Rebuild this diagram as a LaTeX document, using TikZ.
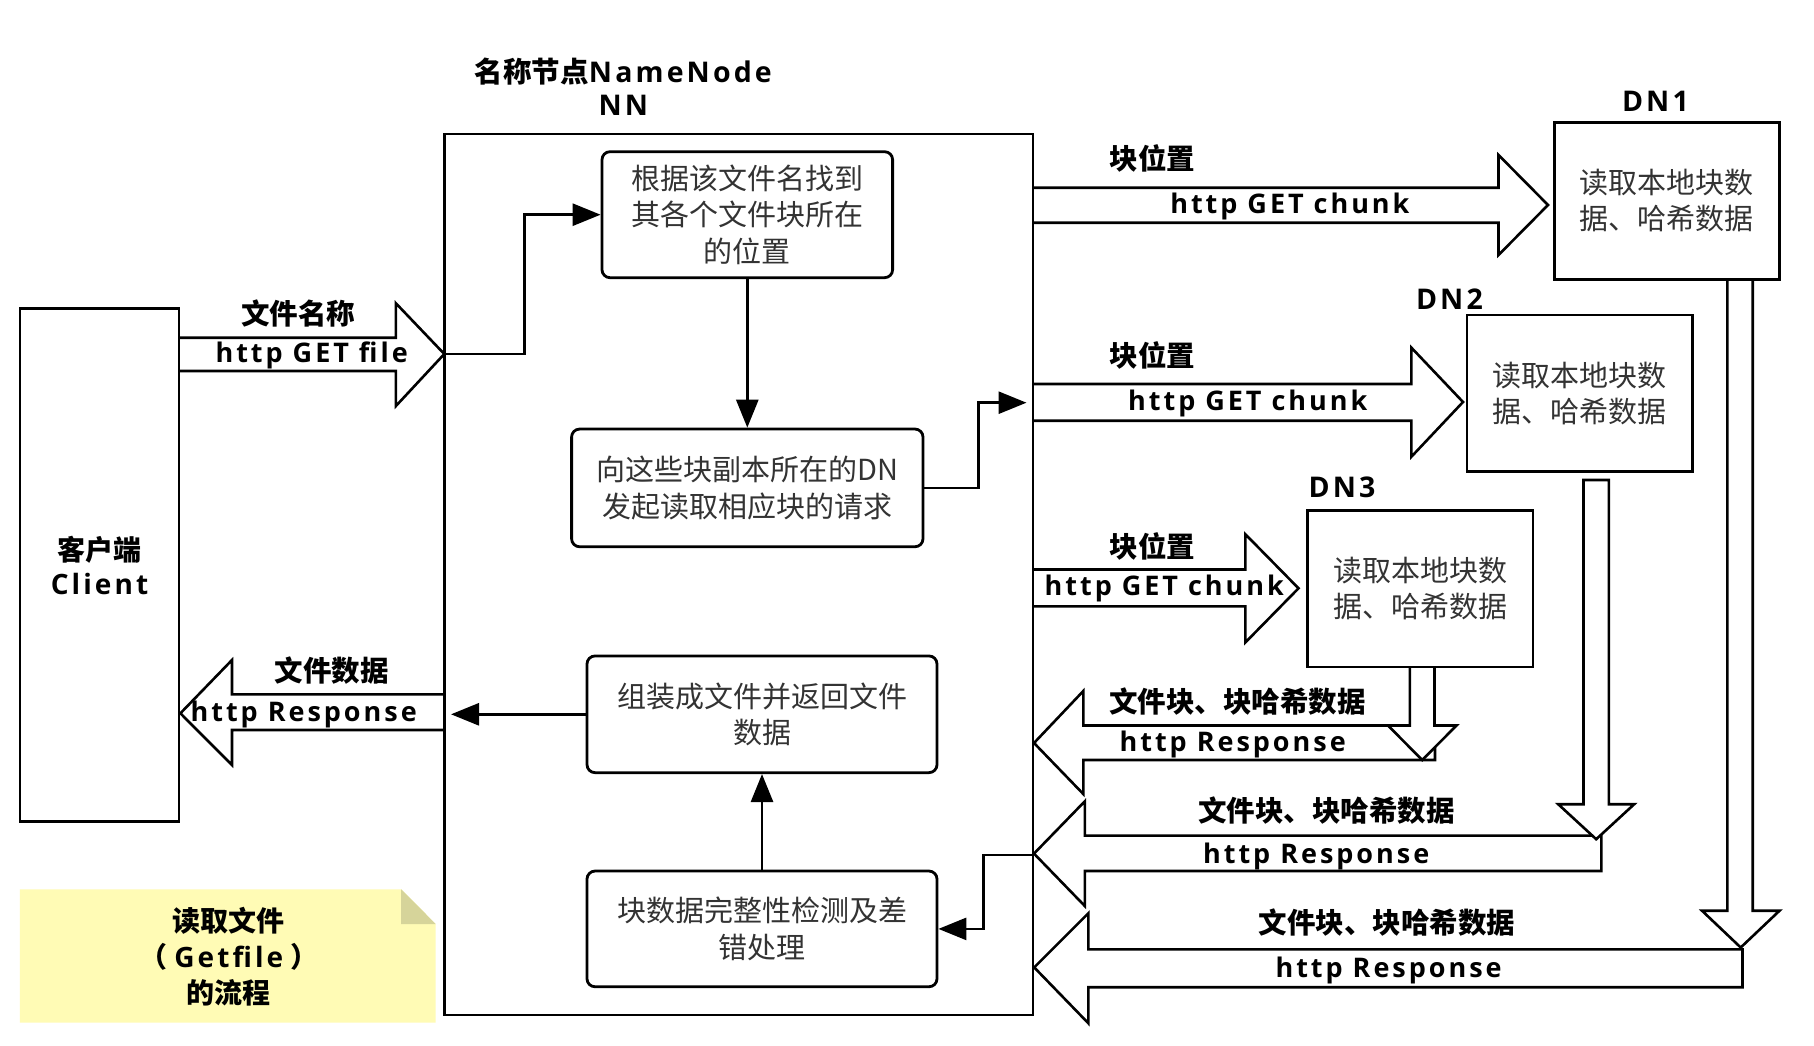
\documentclass[tikz,border=0pt]{standalone}
\usepackage{fontspec}
\setmainfont{Noto Sans CJK SC}
\newfontfamily\latfont[LetterSpace=11]{Open Sans}
\usetikzlibrary{arrows.meta}
\definecolor{txt}{HTML}{333333}
\definecolor{noteY}{HTML}{FFFBB5}
\definecolor{noteF}{HTML}{D6D49A}
\begin{document}
\begin{tikzpicture}[x=1pt,y=-1pt,
  box/.style={draw,line width=2.8pt,rounded corners=8pt,text=txt,font=\fontsize{29}{36.7}\selectfont,align=center,inner sep=0pt},
  sq/.style={draw,line width=2.8pt,text=txt,font=\fontsize{29}{36}\selectfont,align=center,inner sep=0pt},
  blk/.style={draw,fill=white,line width=2.6pt,line join=miter},
  conn/.style={line width=2.8pt,-{Triangle[length=28pt,width=22pt]}},
  lab/.style={font=\fontsize{28.5}{34}\selectfont\bfseries,inner sep=0pt,align=center},
  ltx/.style={font=\latfont\fontsize{27}{30}\selectfont\bfseries,inner sep=0pt}]
\useasboundingbox (0,0) rectangle (1814,1046);
\fill[white] (0,0) rectangle (1814,1046);

% note
\fill[noteY] (19.9,889.3) -- (401.2,889.3) -- (435.7,924) -- (435.7,1022.7) -- (19.9,1022.7) -- cycle;
\fill[noteF] (401.2,889.3) -- (435.7,924) -- (401.2,924) -- cycle;
\node[lab,font=\fontsize{28}{36}\selectfont\bfseries] (note) at (228.8,957) {读取文件\\（\hspace{7pt}{\latfont Getfile}\hspace{7pt}）\\的流程};

% block arrows client <-> NN
\draw[blk] (179,337.7) -- (395.9,337.7) -- (395.9,303.3) -- (444.3,354) -- (395.9,406) -- (395.9,371) -- (179,371);
\draw[blk] (444.3,694.3) -- (232,694.3) -- (232,660) -- (180.4,713.3) -- (232,765) -- (232,730) -- (444.3,730);

% NN -> DN
\draw[blk] (1033,187.7) -- (1498.5,187.7) -- (1498.5,155) -- (1548,205) -- (1498.5,255) -- (1498.5,222.7) -- (1033,222.7);
\draw[blk] (1033,384) -- (1411.4,384) -- (1411.4,347.7) -- (1463,402) -- (1411.4,456.7) -- (1411.4,420.7) -- (1033,420.7);
\draw[blk] (1033,569.5) -- (1245.3,569.5) -- (1245.3,534.2) -- (1298.5,588.3) -- (1245.3,642.5) -- (1245.3,606.4) -- (1033,606.4);

% DN -> NN responses
\draw[blk] (1435,725.5) -- (1083.3,725.5) -- (1083.3,691) -- (1034,743) -- (1083.3,794) -- (1083.3,760) -- (1435,760) -- cycle;
\draw[blk] (1601.3,835.6) -- (1084.8,835.6) -- (1084.8,801.3) -- (1034,853.6) -- (1084.8,906) -- (1084.8,871) -- (1601.3,871) -- cycle;
\draw[blk] (1742.5,949.3) -- (1088.4,949.3) -- (1088.4,913.2) -- (1034.2,967.4) -- (1088.4,1023.3) -- (1088.4,987.2) -- (1742.5,987.2) -- cycle;
\draw[blk] (1409.9,667) -- (1409.9,725.5) -- (1388,725.5) -- (1422.2,760) -- (1456.5,725.5) -- (1434.5,725.5) -- (1434.5,667);
\draw[blk] (1583.5,480) -- (1583.5,804.2) -- (1558.2,804.2) -- (1596.2,839.2) -- (1634.2,804.2) -- (1608.9,804.2) -- (1608.9,480) -- cycle;
\draw[blk] (1727.3,279.3) -- (1727.3,910.7) -- (1702,910.7) -- (1740.7,947.5) -- (1779.5,910.7) -- (1752.7,910.7) -- (1752.7,279.3);

% main nodes
\node[sq,minimum width=588.7pt,minimum height=881pt] (NN) at (738.7,574.5) {};
\node[sq,text=black,font=\fontsize{28}{34}\selectfont\bfseries,minimum width=159pt,minimum height=513.4pt] (CL) at (99.5,565) {客户端\\{\latfont Client}};
\node[box,minimum width=290.6pt,minimum height=126pt] (A) at (747.3,214.7) {根据该文件名找到\\其各个文件块所在\\的位置};
\node[box,minimum width=351.4pt,minimum height=117.7pt] (B) at (747.3,487.9) {向这些块副本所在的DN\\发起读取相应块的请求};
\node[box,minimum width=350pt,minimum height=116.7pt] (C) at (762,714.3) {组装成文件并返回文件\\数据};
\node[box,minimum width=350pt,minimum height=115.7pt] (D) at (762,928.9) {块数据完整性检测及差\\错处理};
\node[sq,minimum width=225.3pt,minimum height=157pt] (DN1) at (1666.9,200.8) {读取本地块数\\据、哈希数据};
\node[sq,minimum width=225.4pt,minimum height=156.7pt] (DN2) at (1579.7,393.4) {读取本地块数\\据、哈希数据};
\node[sq,minimum width=225.3pt,minimum height=156.3pt] (DN3) at (1420.3,588.9) {读取本地块数\\据、哈希数据};

% titles
\node[lab] (t1) at (623.4,71.7) {名称节点{\latfont NameNode}};
\node[lab] (t2) at (623.4,105) {\latfont NN};
\node[lab] (d1) at (1655.4,101.7) {\latfont DN1};
\node[lab] (d2) at (1449.4,299) {\latfont DN2};
\node[lab] (d3) at (1342,487) {\latfont DN3};

% connector coordinates
\coordinate (ca) at (444.3,354);
\coordinate (bo) at (1026.5,402.7);
\coordinate (co) at (451,714.3);
\coordinate (di) at (1033,855);

\draw[conn] (ca) -- ++(80,0) |- (A.west);
\draw[conn] (A.south) -- (B.north);
\draw[conn] (B.east) -- ++(54,0) |- (bo);
\draw[conn] (C.west) -- (co);
\draw[conn] (D.north) -- (C.south);
\draw[conn] (di) -- ++(-49.6,0) |- (D.east);

% labels on block arrows
\node[lab] (l1) at (298.4,313.3) {文件名称};
\node[ltx] (l2) at (311.7,355.5) {http GET file};
\node[lab] (l3) at (331.6,670.7) {文件数据};
\node[ltx] (l4) at (303.7,714) {http Response};
\node[lab] (l5) at (1152.7,158.3) {块位置};
\node[ltx] (l6) at (1289.9,206) {http GET chunk};
\node[lab] (l7) at (1152.7,355) {块位置};
\node[ltx] (l8) at (1247.8,403) {http GET chunk};
\node[lab] (l9) at (1152.7,546.8) {块位置};
\node[ltx] (l10) at (1164.3,588.3) {http GET chunk};
\node[lab] (l11) at (1237.7,702) {文件块、块哈希数据};
\node[ltx] (l12) at (1232.7,744.5) {http Response};
\node[lab] (l13) at (1326.3,810.3) {文件块、块哈希数据};
\node[ltx] (l14) at (1316.2,856) {http Response};
\node[lab] (l15) at (1387,922.2) {文件块、块哈希数据};
\node[ltx] (l16) at (1388.6,970) {http Response};
\end{tikzpicture}
\end{document}
